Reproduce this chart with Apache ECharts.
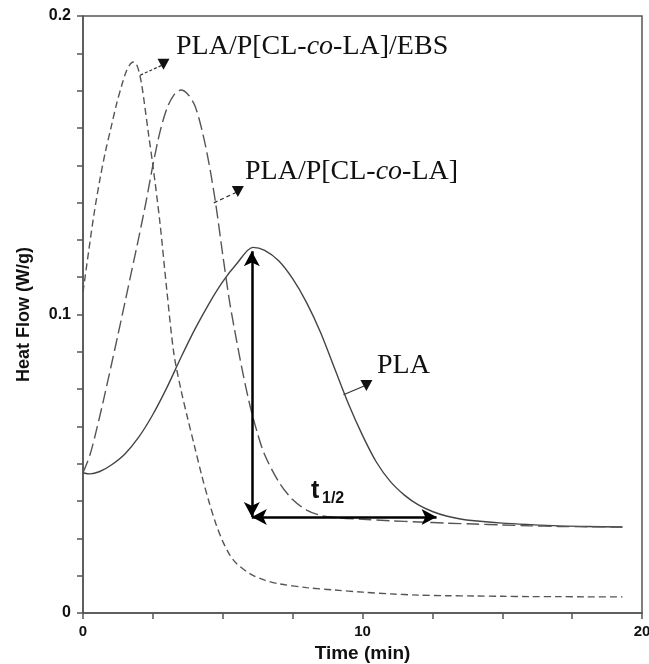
<!DOCTYPE html>
<html>
<head>
<meta charset="utf-8">
<script src="https://cdn.jsdelivr.net/npm/echarts@6/dist/echarts.min.js"></script>
<style>
  html, body { margin: 0; padding: 0; background: #fff; }
  #main { width: 649px; height: 664px; }
</style>
</head>
<body>
<div id="main"></div>
<script>
// 曲线数据  [时间 min, 热流 W/g]
var plaData = [
  [0, 0.0470], [0.25, 0.0466], [0.6, 0.0474], [1.0, 0.0495], [1.5, 0.0533],
  [2.0, 0.0590], [2.5, 0.0665], [3.0, 0.0755], [3.5, 0.0855], [4.0, 0.0950],
  [4.5, 0.1035], [5.0, 0.1110], [5.5, 0.1170], [6.08, 0.1225], [6.5, 0.1215],
  [7.0, 0.1180], [7.5, 0.1120], [8.0, 0.1040], [8.5, 0.0940], [9.0, 0.0820],
  [9.5, 0.0700], [10.0, 0.0595], [10.5, 0.0505], [11.0, 0.0440], [11.5, 0.0395],
  [12.0, 0.0362], [12.5, 0.0340], [13.0, 0.0325], [13.5, 0.0315], [14, 0.0309],
  [15, 0.0301], [16, 0.0296], [17, 0.0292], [18, 0.0290], [19.3, 0.0288]
];
var coData = [
  [0, 0.0470], [0.25, 0.0530], [0.5, 0.0620], [0.75, 0.0720], [1.0, 0.0825],
  [1.25, 0.0932], [1.5, 0.1040], [1.75, 0.1150], [2.0, 0.1260], [2.25, 0.1375],
  [2.5, 0.1500], [2.75, 0.1610], [3.0, 0.1690], [3.25, 0.1735], [3.5, 0.1752],
  [3.75, 0.1738], [4.0, 0.1700], [4.25, 0.1620], [4.5, 0.1510], [4.75, 0.1370],
  [5.0, 0.1200], [5.25, 0.1040], [5.5, 0.0910], [5.75, 0.0790], [6.0, 0.0685],
  [6.25, 0.0600], [6.5, 0.0530], [7.0, 0.0440], [7.5, 0.0380], [8.0, 0.0345],
  [8.5, 0.0327], [9.0, 0.0320], [10, 0.0314], [11, 0.0309], [12, 0.0305],
  [13, 0.0301], [14, 0.0298], [15, 0.0295], [16, 0.0292], [17, 0.0290],
  [18, 0.0289], [19.3, 0.0288]
];
var ebsData = [
  [0, 0.1075], [0.2, 0.1210], [0.4, 0.1340], [0.6, 0.1450], [0.8, 0.1545],
  [1.0, 0.1625], [1.2, 0.1705], [1.4, 0.1772], [1.55, 0.1815], [1.7, 0.1840],
  [1.8, 0.1846], [1.9, 0.1840], [2.0, 0.1815], [2.1, 0.1770], [2.2, 0.1705],
  [2.35, 0.1600], [2.5, 0.1500], [2.75, 0.1310], [3.0, 0.1080], [3.25, 0.0870],
  [3.5, 0.0750], [3.75, 0.0650], [4.0, 0.0555], [4.25, 0.0460], [4.5, 0.0375],
  [4.75, 0.0300], [5.0, 0.0240], [5.25, 0.0195], [5.5, 0.0165], [6.0, 0.0130],
  [6.5, 0.0110], [7.0, 0.0098], [8.0, 0.0085], [9.0, 0.0077], [10, 0.0070],
  [11, 0.0064], [12, 0.0060], [13, 0.0058], [14, 0.0057], [15, 0.0056],
  [16, 0.0055], [17, 0.0055], [18, 0.0054], [19.3, 0.0054]
];
var xLabels = [0, 10, 20];
var yLabels = ['0', '0.1', '0.2'];

var axisFont = "'Liberation Sans Narrow', 'Arial Narrow', 'Liberation Sans', Arial, sans-serif";
var serif = "'Liberation Serif', 'Times New Roman', serif";

// t1/2 箭头
var tHalfStart = [6.04, 0.0322];
var tHalfTop = [6.04, 0.1212];
var tHalfEnd = [12.65, 0.0322];

var oChart = echarts.init(document.getElementById('main'));
var opt = {
  animation: false,
  grid: {
    left: 83, right: 7, top: 16, bottom: 51,
    outerBoundsMode: 'none', containLabel: false,
    show: true, borderColor: '#555', borderWidth: 1.5
  },
  xAxis: {
    type: 'value', min: 0, max: 20, interval: 2.5,
    name: 'Time (min)', nameLocation: 'middle', nameGap: 29,
    nameTextStyle: { fontFamily: axisFont, fontWeight: 'bold', fontSize: 19, color: '#111' },
    axisLine: { lineStyle: { color: '#555', width: 1.5 } },
    axisTick: { inside: false, length: 6, lineStyle: { color: '#555', width: 1.5 } },
    axisLabel: {
      margin: 11, fontFamily: axisFont, fontWeight: 'bold', fontSize: 15, color: '#111',
      formatter: function (v) { return xLabels.indexOf(v) >= 0 ? String(v) : ''; }
    },
    splitLine: { show: false }
  },
  yAxis: {
    type: 'value', min: 0, max: 0.2, interval: 0.0125,
    name: 'Heat Flow (W/g)', nameLocation: 'middle', nameGap: 50,
    nameTextStyle: { fontFamily: axisFont, fontWeight: 'bold', fontSize: 18, color: '#111' },
    axisLine: { lineStyle: { color: '#555', width: 1.5 } },
    axisTick: { length: 6, lineStyle: { color: '#555', width: 1.5 } },
    axisLabel: {
      margin: 12, fontFamily: axisFont, fontWeight: 'bold', fontSize: 16, color: '#111',
      formatter: function (v) {
        for (var i = 0; i < yLabels.length; i++) {
          if (Math.abs(v - parseFloat(yLabels[i])) < 1e-6) return yLabels[i];
        }
        return '';
      }
    },
    splitLine: { show: false }
  },
  series: [{
    name: 'PLA', type: 'line', data: plaData, smooth: 0.3, showSymbol: false,
    lineStyle: { color: '#444', width: 1.4, type: 'solid' },
    markLine: {
      silent: true, symbol: ['arrow', 'arrow'], symbolSize: [12, 15],
      label: { show: false },
      lineStyle: { color: '#000', width: 2.5, type: 'solid' },
      data: [
        [{ coord: tHalfStart }, { coord: tHalfTop }],
        [{ coord: tHalfStart }, { coord: tHalfEnd }],
        [{ coord: [9.32, 0.0731], symbol: 'none', lineStyle: { width: 1.2, color: '#333' } },
         { coord: [10.1, 0.0762], symbol: 'none' }]
      ]
    },
    markPoint: {
      silent: true, symbol: 'triangle', symbolRotate: 180, symbolSize: [12, 11],
      itemStyle: { color: '#111' }, label: { show: false },
      data: [
        { coord: [10.14, 0.0762] },
        { coord: [5.54, 0.1412] },
        { coord: [2.88, 0.1838] }
      ]
    }
  }, {
    name: 'PLA/P[CL-co-LA]', type: 'line', data: coData, smooth: 0.3, showSymbol: false,
    lineStyle: { color: '#555', width: 1.4, type: [13, 5] },
    markLine: {
      silent: true, symbol: 'none', label: { show: false },
      lineStyle: { color: '#333', width: 1.2, type: [4, 3] },
      data: [[{ coord: [4.68, 0.1374] }, { coord: [5.5, 0.1410] }]]
    }
  }, {
    name: 'PLA/P[CL-co-LA]/EBS', type: 'line', data: ebsData, smooth: 0.3, showSymbol: false,
    lineStyle: { color: '#555', width: 1.4, type: [7, 4] },
    markLine: {
      silent: true, symbol: 'none', label: { show: false },
      lineStyle: { color: '#333', width: 1.2, type: [3, 2] },
      data: [[{ coord: [2.05, 0.1802] }, { coord: [2.85, 0.1836] }]]
    }
  }],
  graphic: [
    { type: 'text', left: 176, top: 33, style: {
        text: 'PLA/P[CL-{i|co}-LA]/EBS', font: '28px ' + serif, fill: '#111',
        rich: { i: { fontStyle: 'italic', fontSize: 28, fontFamily: serif, fill: '#111' } } } },
    { type: 'text', left: 245, top: 158, style: {
        text: 'PLA/P[CL-{i|co}-LA]', font: '28px ' + serif, fill: '#111',
        rich: { i: { fontStyle: 'italic', fontSize: 28, fontFamily: serif, fill: '#111' } } } },
    { type: 'text', left: 377, top: 352, style: { text: 'PLA', font: '28px ' + serif, fill: '#111' } },
    { type: 'text', left: 311, top: 479, style: { text: 't', font: 'bold 25px ' + axisFont, fill: '#111' } },
    { type: 'text', left: 322, top: 491, style: { text: '1/2', font: 'bold 16px ' + axisFont, fill: '#111' } }
  ]
};
oChart.setOption(opt);
</script>
</body>
</html>
